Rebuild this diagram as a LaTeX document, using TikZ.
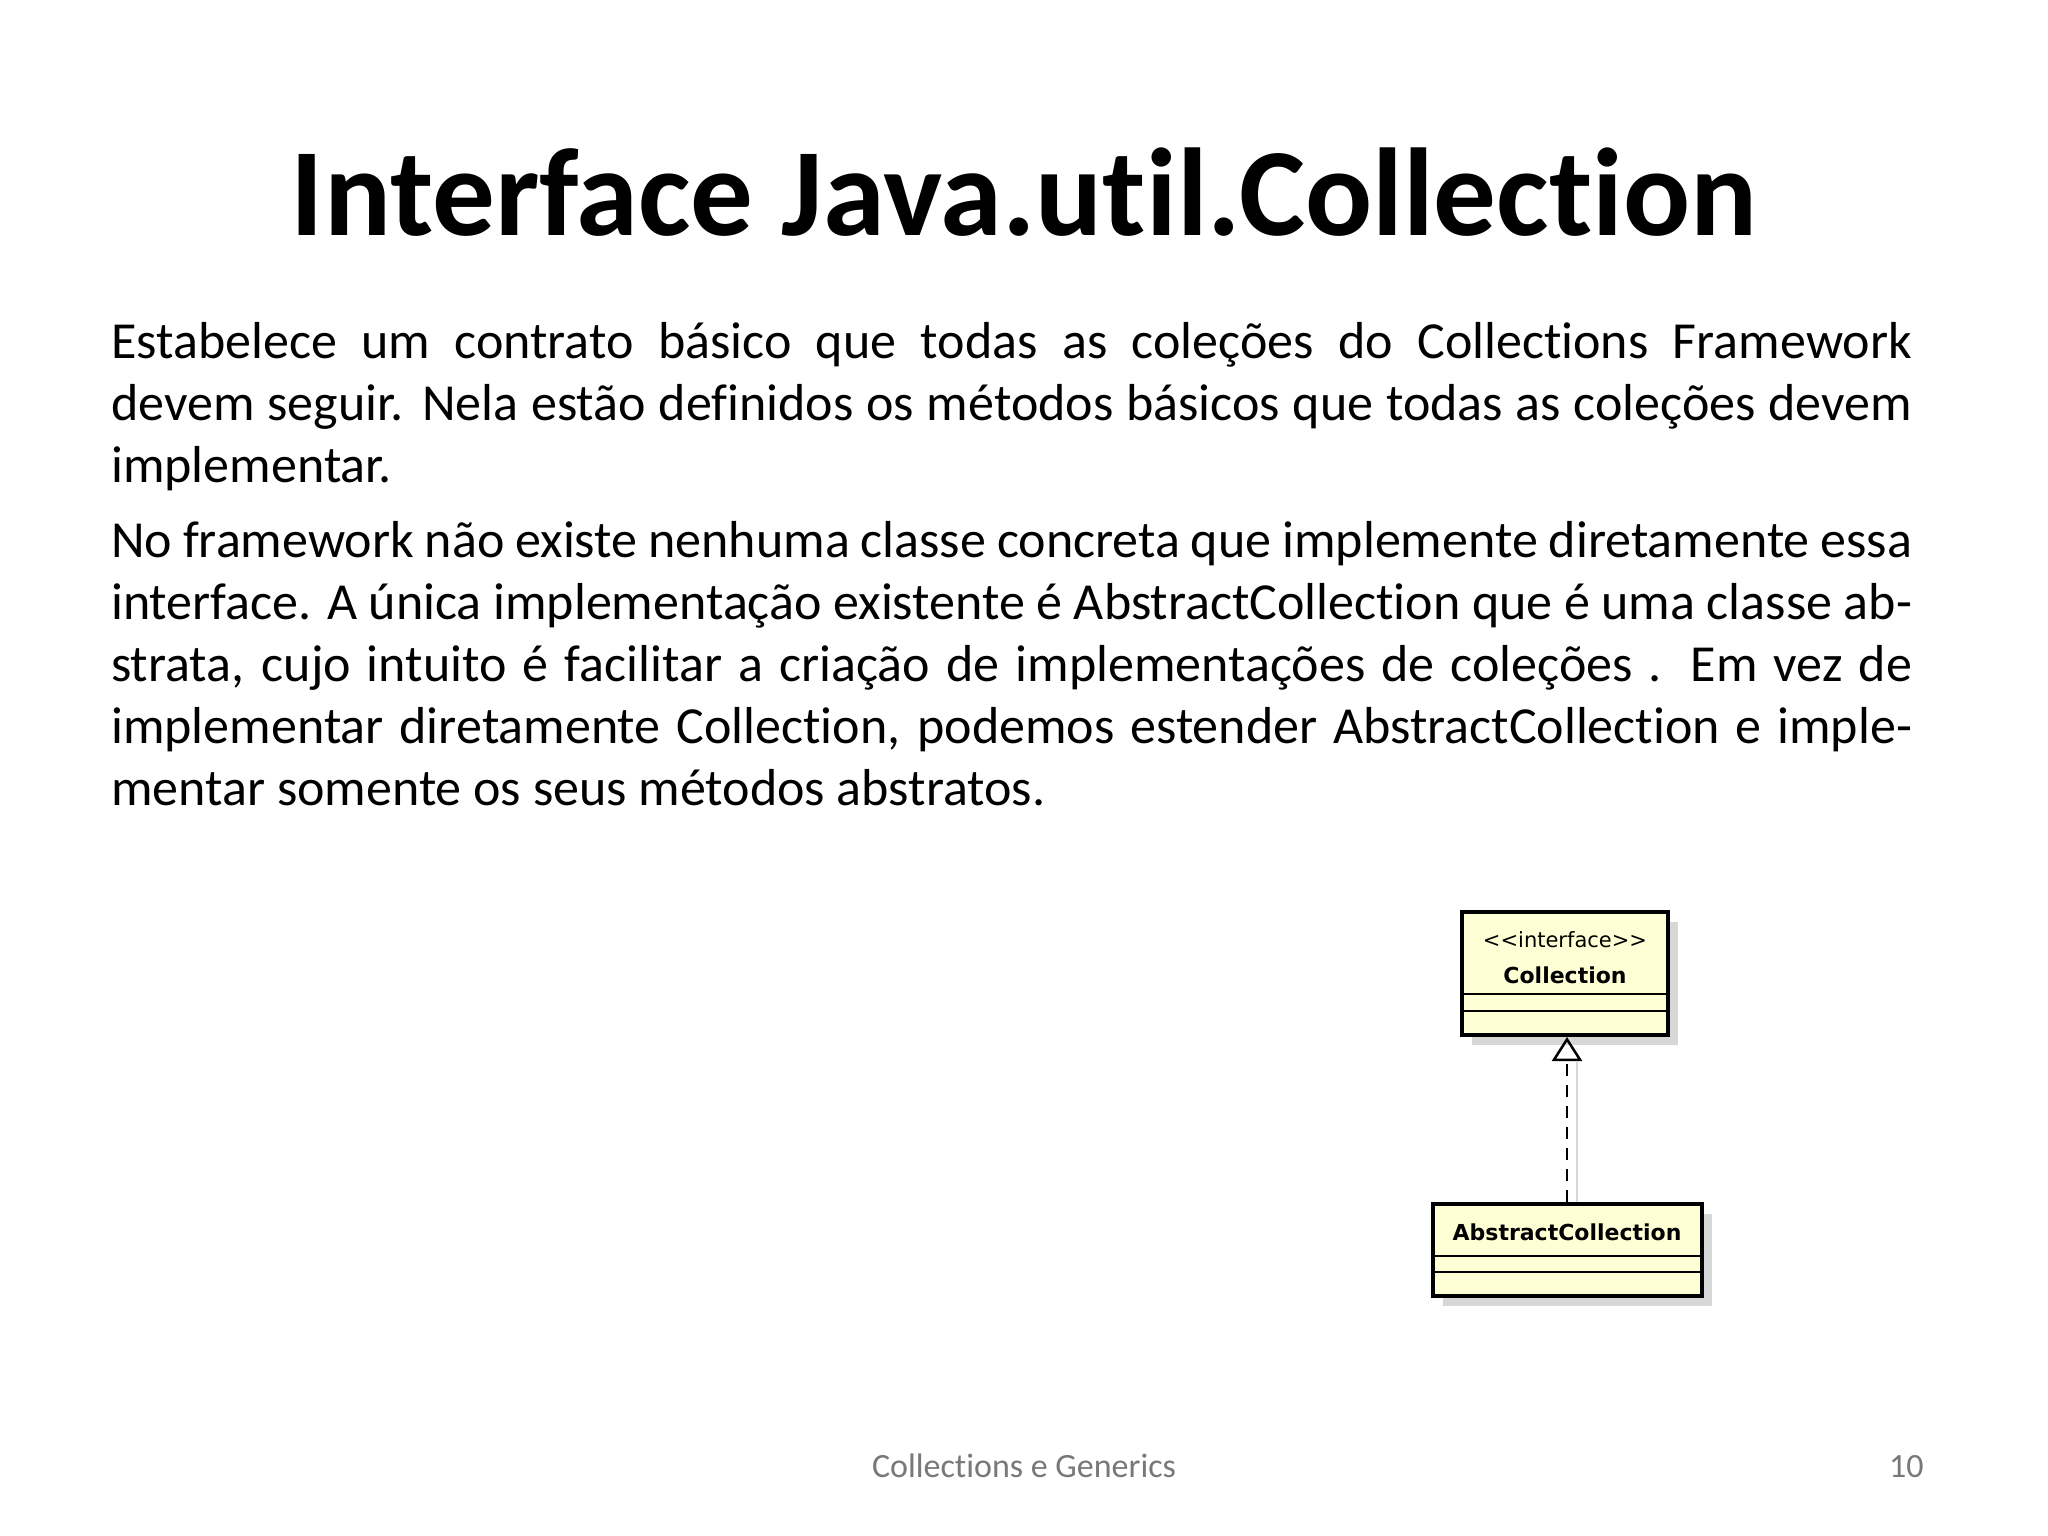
\documentclass[tikz,border=0pt]{standalone}
\usepackage{fontspec}
\setmainfont{Carlito}[Ligatures=CommonOff]
\newfontfamily\umlfont{DejaVu Sans}
\usetikzlibrary{arrows.meta}
\definecolor{umlfill}{RGB}{255,255,214}
\definecolor{shadowc}{RGB}{215,215,215}
\definecolor{footc}{RGB}{120,120,120}
\tikzset{
  umlbox/.style={draw=black,line width=4pt,fill=umlfill},
  umlshadow/.style={fill=shadowc,draw=none},
  sep/.style={line width=1.5pt},
}
\begin{document}
\begin{tikzpicture}[x=1pt,y=-1pt]
\useasboundingbox (0,0) rectangle (2048,1536);
\fill[white] (0,0) rectangle (2048,1536);
% title
\node[font=\fontsize{125}{140}\selectfont\bfseries,anchor=base] (title) at (1024,235) {Interface Java.util.Collection};
% body
\node[anchor=north west,inner sep=0pt,text width=1801pt,align=justify,font=\fontsize{52}{62}\selectfont] (body) at (111,322) {%
\parskip=13pt\hyphenpenalty=10000\exhyphenpenalty=10000\emergencystretch=200pt
Estabelece um contrato básico que todas as coleções do Collections Framework devem seguir. Nela estão definidos os métodos básicos que todas as coleções devem implementar.\par
No framework não existe nenhuma classe concreta que implemente diretamente essa interface. A única implementação existente é AbstractCollection que é uma classe abstrata, cujo intuito é facilitar a criação de implementações de coleções . Em vez de implementar diretamente Collection, podemos estender AbstractCollection e implementar somente os seus métodos abstratos.};
% UML
\fill[umlshadow] (1472,922) rectangle (1678,1045);
\fill[umlshadow] (1443,1214) rectangle (1712,1306);
\draw[umlbox] (1462,912) rectangle (1668,1035);
\draw[sep] (1462,994) -- (1668,994);
\draw[sep] (1462,1011) -- (1668,1011);
\node[font=\umlfont\fontsize{21}{23}\selectfont] (stereo) at (1565,940) {<<interface>>};
\node[font=\umlfont\bfseries\fontsize{22}{24}\selectfont] (coll) at (1565,975) {Collection};
\coordinate (collb) at (1567,1037);
\draw[shadowc,line width=2pt] (1577,1204) -- (1577,1062);
\draw[umlbox] (1433,1204) rectangle (1702,1296);
\draw[sep] (1433,1256) -- (1702,1256);
\draw[sep] (1433,1272) -- (1702,1272);
\node[font=\umlfont\bfseries\fontsize{22}{24}\selectfont] (abs) at (1567,1232) {AbstractCollection};
\coordinate (abst) at (1567,1202);
\draw[line width=2.5pt,dash pattern=on 12pt off 9pt,-{Triangle[open,width=30pt,length=24pt,line width=2.5pt]}] (abst) -- (collb);
% footer
\node[font=\fontsize{34}{38}\selectfont,text=footc,anchor=base] (foot) at (1024,1477) {Collections e Generics};
\node[font=\fontsize{34}{38}\selectfont,text=footc,anchor=base east] (page) at (1927,1477) {10};
\end{tikzpicture}
\end{document}
